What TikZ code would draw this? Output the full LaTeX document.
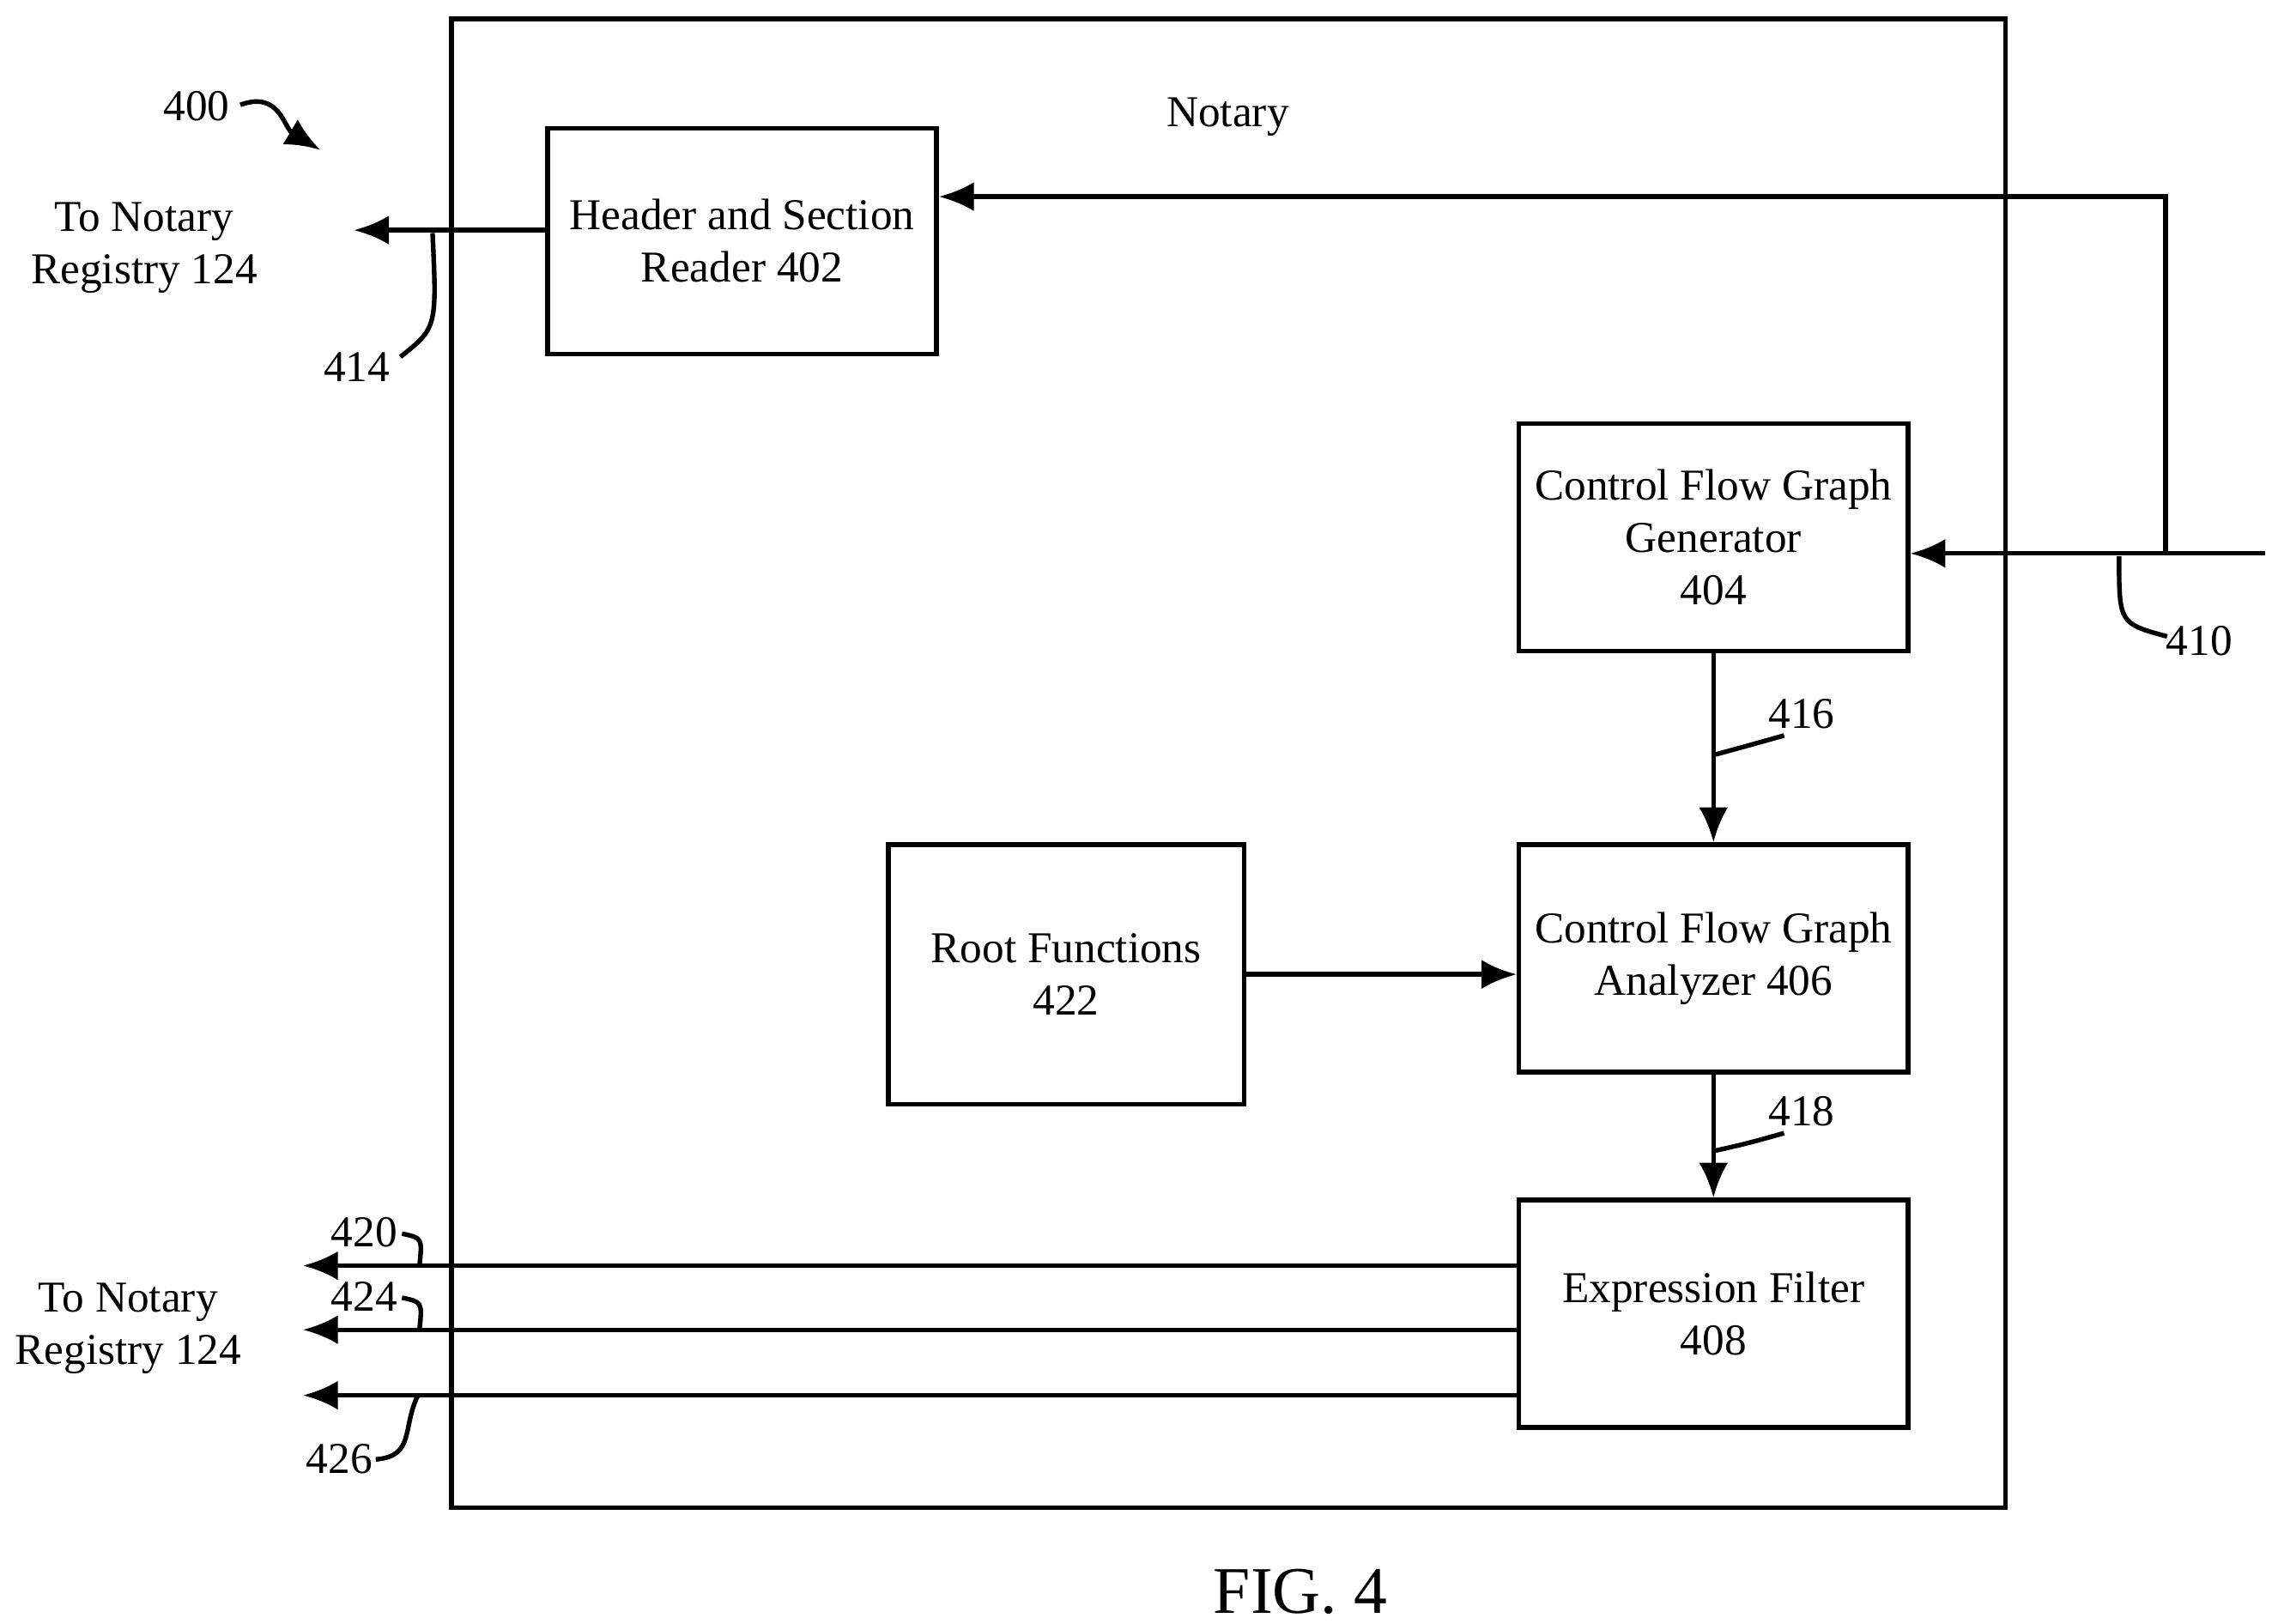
\documentclass[tikz,border=0pt]{standalone}
\usepackage{fontspec}
\setmainfont{Liberation Serif}
\usetikzlibrary{arrows.meta}
\tikzset{
  blk/.style={draw, line width=0.9pt, align=center, inner sep=0pt, font=\fontsize{8.6}{10.2}\selectfont},
  arr/.style={line width=0.9pt, -{Latex[length=0.24cm,width=0.2cm]}},
  lead/.style={line width=0.9pt},
  lbl/.style={inner sep=0pt, align=center, font=\fontsize{8.6}{10.2}\selectfont}
}
\begin{document}
\begin{tikzpicture}[x=0.01cm,y=-0.01cm]
\useasboundingbox (0,0) rectangle (1560,1115);
% outer box
\draw [line width=0.9pt] (310,13) rectangle (1377,1035);
\node [lbl] (notary) at (843,80) {Notary};
\node [lbl] (n400) at (135,73) {400};
\draw [arr] (165,72) .. controls (192,62) and (195,88) .. (220,103);
% blocks
\node [blk, minimum width=2.67cm, minimum height=1.55cm] (hdr) at (509.5,165.5) {Header and Section\\Reader 402};
\node [blk, minimum width=2.67cm, minimum height=1.56cm] (gen) at (1176.5,369) {Control Flow Graph\\Generator\\404};
\node [blk, minimum width=2.67cm, minimum height=1.56cm] (ana) at (1176.5,658) {Control Flow Graph\\Analyzer 406};
\node [blk, minimum width=2.44cm, minimum height=1.78cm] (root) at (732,669) {Root Functions\\422};
\node [blk, minimum width=2.67cm, minimum height=1.56cm] (flt) at (1176.5,902) {Expression Filter\\408};
% input 410
\coordinate (in) at (1555,380);
\coordinate (br) at (1487,380);
\coordinate (up) at (1487,135);
\draw [arr] (in) -- (gen.east |- in);
\draw [arr] (br) -- (up) -- (hdr.east |- up);
\node [lbl] (n410) at (1510,440) {410};
\draw [lead] (1455,382) .. controls (1455,428) .. (1488,437);
% header output
\coordinate (o0) at (243,158);
\draw [arr] (hdr.west |- o0) -- (o0);
\node [lbl] (reg1) at (99,170) {To Notary\\Registry 124};
\node [lbl] (n414) at (245,252) {414};
\draw [lead] (297,160) .. controls (300,225) .. (275,245);
% internal flow
\draw [arr] (gen) -- (ana);
\node [lbl] (n416) at (1237,490) {416};
\draw [lead] (1178,518) .. controls (1200,512) .. (1225,505);
\draw [arr] (root.east |- 0,669) -- (ana.west |- 0,669);
\draw [arr] (ana) -- (flt);
\node [lbl] (n418) at (1237,763) {418};
\draw [lead] (1178,790) .. controls (1200,785) .. (1225,778);
% filter outputs
\coordinate (o1) at (208,869);
\coordinate (o2) at (208,913);
\coordinate (o3) at (208,958);
\draw [arr] (flt.west |- o1) -- (o1);
\draw [arr] (flt.west |- o2) -- (o2);
\draw [arr] (flt.west |- o3) -- (o3);
\node [lbl] (n420) at (250,846) {420};
\draw [lead] (276,847) .. controls (290,850) .. (288,869);
\node [lbl] (n424) at (250,890) {424};
\draw [lead] (276,891) .. controls (290,894) .. (288,913);
\node [lbl] (n426) at (233,1002) {426};
\draw [lead] (287,958) .. controls (276,980) and (285,1000) .. (258,1002);
\node [lbl] (reg2) at (88,912) {To Notary\\Registry 124};
\node [inner sep=0pt, font=\fontsize{13}{15}\selectfont] (fig) at (893,1093) {FIG. 4};
\end{tikzpicture}
\end{document}
